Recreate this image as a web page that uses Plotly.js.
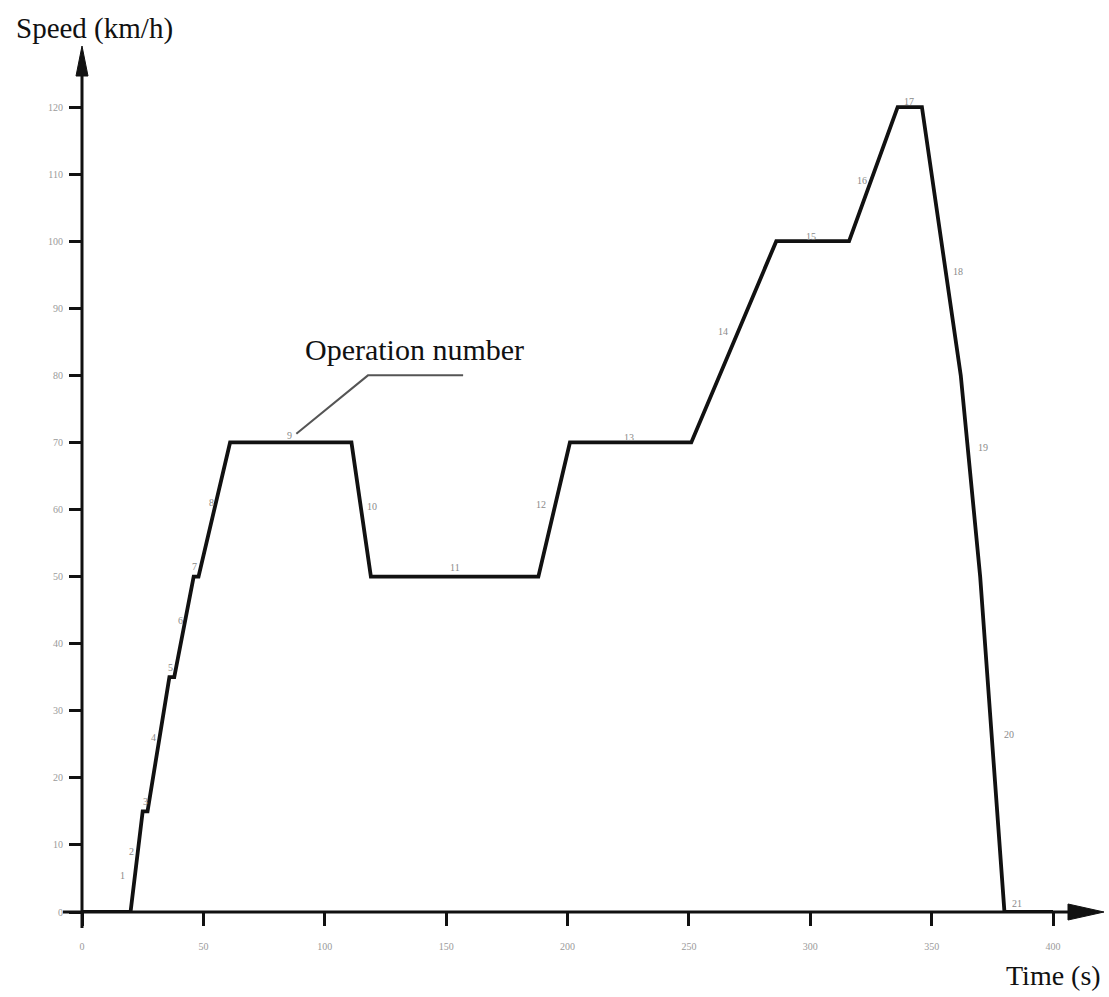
<!DOCTYPE html>
<html>
<head>
<meta charset="utf-8">
<script src="https://cdn.plot.ly/plotly-3.0.1.min.js"></script>
<style>html,body{margin:0;padding:0;background:#fff;}#chart{width:1109px;height:997px;}</style>
</head>
<body>
<div id="chart"></div>
<script>
// Time (s) at each corner of the speed profile
const timeS = [0, 20, 25, 27, 36, 38, 46, 48, 61, 111, 119, 188, 201, 251, 286, 316, 336, 346, 362, 370, 380, 400];
// Speed (km/h) at each corner
const speedKmh = [0, 0, 15, 15, 35, 35, 50, 50, 70, 70, 50, 50, 70, 70, 100, 100, 120, 120, 80, 50, 0, 0];
// Operation numbers and where their labels sit
const opNumbers = ['1','2','3','4','5','6','7','8','9','10','11','12','13','14','15','16','17','18','19','20','21'];
const opLabelT = [16.5, 20.5, 26, 29.5, 36.5, 40.5, 46.5, 53.5, 85.5, 119.5, 153.5, 189, 225.5, 264, 300.5, 321.5, 340.5, 361, 371, 382, 385];
const opLabelV = [5.5, 9, 16.5, 26, 36.5, 43.5, 51.5, 61, 71, 60.5, 51.3, 60.8, 70.8, 86.5, 100.7, 109, 120.8, 95.5, 69.3, 26.5, 1.3];
// Axis ticks
const xTicks = [0, 50, 100, 150, 200, 250, 300, 350, 400];
const yTicks = [0, 10, 20, 30, 40, 50, 60, 70, 80, 90, 100, 110, 120];

const L = 82, R = 9, T = 45, B = 85, W = 1109, H = 997;
const PW = W - L - R, PH = H - T - B;
const pxPerS = 2.4275, pxPerKmh = 6.708;
const px = v => (v - L) / PW;
const py = v => (H - B - v) / PH;

const serif = 'Liberation Serif, Times New Roman, serif';

const trace = {
  x: timeS, y: speedKmh, type: 'scatter', mode: 'lines',
  line: {color: '#111', width: 3.8}, cliponaxis: false, hoverinfo: 'skip'
};

const annotations = opNumbers.map((t, i) => ({
  x: opLabelT[i], y: opLabelV[i], xref: 'x', yref: 'y', text: t, showarrow: false,
  font: {family: serif, size: 10, color: '#8a8a8a'}
}));
annotations.push(
  {xref: 'paper', yref: 'paper', x: px(14), y: py(28), xanchor: 'left', yanchor: 'middle',
   text: 'Speed (km/h)', showarrow: false, font: {family: serif, size: 29, color: '#111'}},
  {xref: 'paper', yref: 'paper', x: px(1004), y: py(975), xanchor: 'left', yanchor: 'middle',
   text: 'Time (s)', showarrow: false, font: {family: serif, size: 28, color: '#111'}},
  {xref: 'x', yref: 'y', x: 137, y: 83.8, xanchor: 'center', yanchor: 'middle',
   text: 'Operation number', showarrow: false, font: {family: serif, size: 30, color: '#111'}}
);

const shapes = [
  // x axis line
  {type: 'line', xref: 'paper', yref: 'paper', x0: px(63), x1: px(1075), y0: 0, y1: 0,
   line: {color: '#111', width: 3}, layer: 'above'},
  // y axis line
  {type: 'line', xref: 'paper', yref: 'paper', x0: 0, x1: 0, y0: py(928), y1: py(65),
   line: {color: '#111', width: 3}, layer: 'above'},
  // arrowheads
  {type: 'path', xref: 'paper', yref: 'paper',
   path: `M ${px(1068)} ${py(904)} L ${px(1104)} ${py(912)} L ${px(1068)} ${py(920)} Z`,
   fillcolor: '#111', line: {color: '#111', width: 1}, layer: 'above'},
  {type: 'path', xref: 'paper', yref: 'paper',
   path: `M ${px(76)} ${py(76)} L ${px(82)} ${py(46)} L ${px(88)} ${py(76)} Z`,
   fillcolor: '#111', line: {color: '#111', width: 1}, layer: 'above'},
  // leader line for "Operation number"
  {type: 'path', xref: 'x', yref: 'y', path: 'M 157 80 L 117.8 80 L 88.3 71.3',
   line: {color: '#555', width: 2}}
];

const layout = {
  width: W, height: H,
  margin: {l: L, r: R, t: T, b: B, pad: 0},
  paper_bgcolor: '#fff', plot_bgcolor: '#fff',
  showlegend: false,
  xaxis: {range: [0, PW / pxPerS], tickvals: xTicks, ticktext: xTicks.map(String),
    ticks: 'outside', ticklen: 13, tickwidth: 3, tickcolor: '#111',
    showgrid: false, zeroline: false, showline: false, ticklabelstandoff: 12,
    tickfont: {family: serif, size: 10, color: '#9a9a9a'}},
  yaxis: {range: [0, PH / pxPerKmh], tickvals: yTicks, ticktext: yTicks.map(String),
    ticks: 'outside', ticklen: 12, tickwidth: 3, tickcolor: '#111',
    showgrid: false, zeroline: false, showline: false, ticklabelstandoff: 4,
    tickfont: {family: serif, size: 10, color: '#9a9a9a'}},
  annotations: annotations,
  shapes: shapes
};

Plotly.newPlot('chart', [trace], layout, {displayModeBar: false, staticPlot: true});
</script>
</body>
</html>
